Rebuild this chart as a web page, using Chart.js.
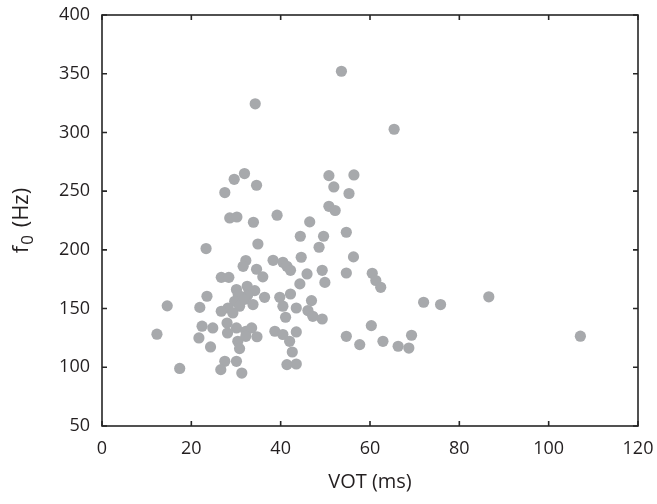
<!DOCTYPE html>
<html><head><meta charset="utf-8">
<script src="https://cdn.jsdelivr.net/npm/chart.js@4"></script>
<style>html,body{margin:0;padding:0;background:#fff;overflow:hidden}</style>
</head><body>
<canvas id="c" width="657" height="504"></canvas>
<script>
const votMs = [12.3,14.6,17.4,21.9,22.4,21.7,23.5,23.3,24.8,24.3,
26.7,28.4,30.1,32.5,34.2,30.5,32.6,29.7,30.8,31.9,
28.2,26.7,29.3,33.8,28.0,30.1,32.2,33.5,28.1,30.4,
30.8,32.2,34.7,27.5,30.1,26.6,31.3,31.9,29.6,34.6,
27.5,28.6,30.2,33.9,34.9,32.2,31.6,34.6,34.3,36.0,
36.4,38.3,40.5,41.4,42.2,39.2,45.9,49.3,49.9,44.3,
39.8,42.2,40.5,43.5,46.9,46.1,47.2,49.3,41.1,38.7,
40.5,42.0,43.5,42.6,41.4,43.5,46.5,44.4,49.6,48.6,
44.6,50.8,56.4,51.9,55.3,50.8,52.2,54.7,56.3,54.7,
54.7,57.7,53.6,60.5,61.3,62.4,72.0,75.8,60.3,62.9,
66.3,68.7,69.3,65.4,86.6,107.1];
const f0Hz = [128.2,152.3,99.0,151.0,135.0,125.0,160.5,201.1,133.5,117.3,
176.6,176.6,166.2,169.0,165.3,161.8,161.3,156.2,152.0,157.9,
150.5,147.7,146.3,153.4,137.7,133.5,130.7,133.5,129.2,122.1,
115.9,126.4,126.0,105.1,105.1,98.0,95.1,265.0,260.1,255.0,
248.8,227.2,228.0,223.5,205.0,190.9,186.0,183.5,324.4,177.0,
159.6,191.1,189.4,186.0,182.6,229.5,179.5,182.6,172.3,171.0,
159.6,162.4,152.0,150.5,156.8,148.3,143.4,141.1,142.6,130.7,
127.9,122.1,130.1,113.0,102.3,102.8,223.8,211.6,211.6,202.2,
193.7,263.2,263.8,253.6,248.0,237.1,233.5,215.0,194.0,180.3,
126.4,119.3,352.1,180.1,173.9,168.1,155.4,153.4,135.5,122.1,
117.9,116.4,127.3,302.7,160.0,126.5];
const xTicks = [0,20,40,60,80,100,120];
const yTicks = [50,100,150,200,250,300,350,400];
const xTitle = 'VOT (ms)';
const yTitleParts = ['f', '0', ' (Hz)'];   // f with subscript 0, then unit

const points = votMs.map((v,i)=>({x:v, y:f0Hz[i]}));
const axisColor = '#262626';
const textColor = '#231f20';
const FONT = "'Open Sans', 'Noto Sans', sans-serif";

const framePlugin = {
  id:'frame',
  afterDatasetsDraw(chart){
    const {ctx, chartArea:{left,right,top,bottom}, scales:{x,y}} = chart;
    ctx.save();
    ctx.strokeStyle = axisColor; ctx.lineWidth = 1.6;
    ctx.strokeRect(left, top, right-left, bottom-top);
    const tl = 5;
    ctx.beginPath();
    x.ticks.forEach(t=>{const p=x.getPixelForValue(t.value);
      ctx.moveTo(p,bottom); ctx.lineTo(p,bottom-tl); ctx.moveTo(p,top); ctx.lineTo(p,top+tl);});
    y.ticks.forEach(t=>{const p=y.getPixelForValue(t.value);
      ctx.moveTo(left,p); ctx.lineTo(left+tl,p); ctx.moveTo(right,p); ctx.lineTo(right-tl,p);});
    ctx.stroke();
    ctx.restore();
  }
};

// y-axis title with a real subscript
const yTitlePlugin = {
  id:'yTitleSub',
  afterDraw(chart){
    const {ctx, chartArea:{top,bottom}} = chart;
    const cx = 22, cy = (top+bottom)/2;
    const big = '22px ' + FONT, small = '17px ' + FONT;
    ctx.save();
    ctx.fillStyle = textColor;
    ctx.textBaseline = 'middle';
    ctx.textAlign = 'left';
    ctx.font = big; const w0 = ctx.measureText(yTitleParts[0]).width + 1;
    const w2 = ctx.measureText(yTitleParts[2]).width;
    ctx.font = small; const w1 = ctx.measureText(yTitleParts[1]).width + 2;
    const W = w0 + w1 + w2;
    ctx.translate(cx, cy); ctx.rotate(-Math.PI/2);
    let xx = -W/2;
    ctx.font = big; ctx.fillText(yTitleParts[0], xx, 0); xx += w0;
    ctx.font = small; ctx.fillText(yTitleParts[1], xx, 6); xx += w1;
    ctx.font = big; ctx.fillText(yTitleParts[2], xx, 0);
    ctx.restore();
  }
};

new Chart(document.getElementById('c'), {
  type:'scatter',
  data:{datasets:[{data:points, pointRadius:5.6, pointHoverRadius:5.6,
    backgroundColor:'#a7a9ac', borderWidth:0}]},
  options:{
    responsive:false, animation:false, devicePixelRatio:1,
    layout:{padding:{left:0, top:15, right:19, bottom:0}},
    plugins:{legend:{display:false}, tooltip:{enabled:false}},
    scales:{
      x:{type:'linear', min:0, max:120,
        afterBuildTicks:s=>{s.ticks = xTicks.map(v=>({value:v}));},
        afterFit:s=>{s.height = 78; s.paddingLeft = 0; s.paddingRight = 0;},
        grid:{display:false, drawTicks:false},
        border:{display:false},
        ticks:{padding:12, color:textColor, font:{family:FONT, size:18}},
        title:{display:true, text:xTitle, color:textColor, font:{family:FONT, size:20}, padding:{top:0,bottom:10}}
      },
      y:{type:'linear', min:50, max:400,
        afterBuildTicks:s=>{s.ticks = yTicks.map(v=>({value:v}));},
        afterFit:s=>{s.width = 102; s.paddingTop = 0; s.paddingBottom = 0;},
        grid:{display:false, drawTicks:false},
        border:{display:false},
        ticks:{padding:12, color:textColor, font:{family:FONT, size:18}},
        title:{display:false}
      }
    }
  },
  plugins:[framePlugin, yTitlePlugin]
});
</script>
</body></html>
